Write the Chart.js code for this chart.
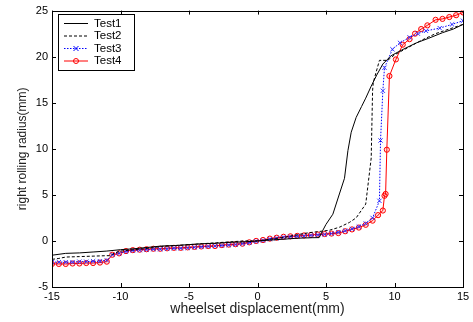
<!DOCTYPE html>
<html>
<head>
  <meta charset="UTF-8" />
  <title>Rolling radius</title>
  <script src="https://cdn.jsdelivr.net/npm/chart.js"></script>
  <style>
    html, body { margin: 0; padding: 0; background: #fff; overflow: hidden; }
    canvas { display: block; }
  </style>
</head>
<body>
  <canvas id="rr" width="473" height="322"></canvas>
  <script>
    // measured rolling radius curves (mm) vs wheelset lateral displacement (mm)
    const test1X = [-15, -14, -13, -12, -11, -10, -9, -8, -7, -6, -5, -4, -3, -2, -1, 0, 1, 2, 3, 4, 4.5, 4.75, 5, 5.5, 6, 6.35, 6.6, 6.84, 7.2, 7.6, 7.9, 8.3, 8.7, 9.15, 9.75, 10.5, 11.6, 12.5, 13.5, 14.3, 15];
    const test1Y = [-1.55, -1.35, -1.3, -1.2, -1.1, -0.95, -0.85, -0.7, -0.55, -0.5, -0.4, -0.3, -0.25, -0.15, -0.1, 0, 0.1, 0.2, 0.3, 0.35, 0.36, 1.1, 1.8, 2.9, 5.2, 6.8, 9.8, 11.8, 13.4, 14.6, 15.5, 16.8, 18.0, 19.2, 20.1, 20.7, 21.5, 22.0, 22.6, 23.0, 23.5];

    const test2X = [-15, -14.5, -14, -13, -12, -11, -10.8, -10.4, -10, -9, -8, -7, -6, -5, -4, -3, -2, -1, 0, 1, 2, 3, 3.8, 5.25, 6, 6.7, 7.2, 7.9, 8.1, 8.3, 8.4, 8.45, 8.9, 9.5, 10, 11, 12, 13, 14, 15];
    const test2Y = [-2.0, -1.9, -1.75, -1.7, -1.65, -1.6, -1.6, -1.3, -1.1, -0.95, -0.8, -0.6, -0.5, -0.4, -0.3, -0.2, -0.1, 0, 0, 0.2, 0.4, 0.7, 0.9, 1.16, 1.5, 2.0, 2.5, 4.0, 6.5, 9.0, 16.3, 17.2, 19.6, 19.6, 20.2, 21.0, 21.8, 22.5, 23.0, 23.5];

    const test3X = [-15, -14.5, -14, -13.5, -13, -12.5, -12, -11.5, -11, -10.6, -10.1, -9.6, -9.1, -8.6, -8.1, -7.6, -7.1, -6.6, -6.1, -5.6, -5.1, -4.6, -4.1, -3.6, -3.1, -2.6, -2.1, -1.6, -1.1, -0.6, -0.1, 0.4, 0.9, 1.4, 1.9, 2.4, 2.9, 3.4, 3.9, 4.4, 4.9, 5.4, 5.9, 6.4, 6.9, 7.4, 7.9, 8.4, 8.9, 8.98, 9.15, 9.27, 9.85, 10.4, 11.1, 11.7, 12.3, 13.3, 14.2, 15];
    const test3Y = [-2.3, -2.3, -2.3, -2.3, -2.25, -2.25, -2.2, -2.2, -2.1, -1.5, -1.35, -1.15, -1.05, -1.0, -0.95, -0.9, -0.9, -0.85, -0.8, -0.8, -0.75, -0.7, -0.65, -0.6, -0.55, -0.5, -0.45, -0.4, -0.3, -0.2, -0.05, 0.05, 0.2, 0.3, 0.4, 0.45, 0.5, 0.55, 0.6, 0.65, 0.7, 0.8, 0.95, 1.1, 1.3, 1.55, 1.9, 2.5, 4.35, 10.9, 16.3, 18.8, 20.8, 21.5, 22.1, 22.5, 22.8, 23.1, 23.5, 23.9];

    const test4X = [-15, -14.5, -14, -13.5, -13, -12.5, -12, -11.5, -11, -10.6, -10.1, -9.6, -9.1, -8.6, -8.1, -7.6, -7.1, -6.6, -6.1, -5.6, -5.1, -4.6, -4.1, -3.6, -3.1, -2.6, -2.1, -1.6, -1.1, -0.6, -0.1, 0.4, 0.9, 1.4, 1.9, 2.4, 2.9, 3.4, 3.9, 4.4, 4.9, 5.4, 5.9, 6.4, 6.9, 7.4, 7.9, 8.4, 8.8, 9.15, 9.27, 9.35, 9.44, 9.63, 10.1, 10.6, 11.1, 11.5, 11.95, 12.4, 13.0, 13.5, 14.0, 14.5, 15];
    const test4Y = [-2.5, -2.5, -2.5, -2.45, -2.45, -2.4, -2.4, -2.35, -2.25, -1.5, -1.35, -1.1, -1.0, -0.95, -0.9, -0.85, -0.85, -0.8, -0.75, -0.75, -0.7, -0.65, -0.6, -0.55, -0.55, -0.45, -0.4, -0.35, -0.3, -0.15, 0, 0.1, 0.25, 0.35, 0.45, 0.5, 0.55, 0.6, 0.65, 0.7, 0.75, 0.8, 0.85, 1.05, 1.25, 1.45, 1.75, 2.2, 2.8, 3.3, 4.9, 5.1, 9.9, 17.9, 19.7, 21.3, 21.9, 22.5, 23.0, 23.4, 24.0, 24.1, 24.3, 24.5, 24.8];

    const seriesNames = ['Test1', 'Test2', 'Test3', 'Test4'];
    const xTicks = [-15, -10, -5, 0, 5, 10, 15];
    const yTicks = [-5, 0, 5, 10, 15, 20, 25];

    const pts = (xs, ys) => xs.map((x, i) => ({ x: x, y: ys[i] }));
    const FONT = 'Liberation Sans, Arial, sans-serif';

    // MATLAB-style box, inward ticks and boxed legend
    const boxPlugin = {
      id: 'box',
      afterDraw(chart) {
        const ctx = chart.ctx;
        const a = chart.chartArea;
        const xs = chart.scales.x, ys = chart.scales.y;
        ctx.save();
        ctx.strokeStyle = '#000';
        ctx.lineWidth = 1;
        ctx.strokeRect(Math.round(a.left) + 0.5, Math.round(a.top) + 0.5,
                       Math.round(a.right - a.left), Math.round(a.bottom - a.top));
        ctx.beginPath();
        xTicks.forEach(v => {
          const px = Math.round(xs.getPixelForValue(v)) + 0.5;
          ctx.moveTo(px, a.bottom); ctx.lineTo(px, a.bottom - 4);
          ctx.moveTo(px, a.top); ctx.lineTo(px, a.top + 4);
        });
        yTicks.forEach(v => {
          const py = Math.round(ys.getPixelForValue(v)) + 0.5;
          ctx.moveTo(a.left, py); ctx.lineTo(a.left + 4, py);
          ctx.moveTo(a.right, py); ctx.lineTo(a.right - 4, py);
        });
        ctx.stroke();

        // legend
        const lx = 58, ly = 14, lw = 76, lh = 56;
        ctx.fillStyle = '#fff';
        ctx.fillRect(lx, ly, lw, lh);
        ctx.strokeStyle = '#000';
        ctx.strokeRect(lx + 0.5, ly + 0.5, lw, lh);
        ctx.font = '11.5px ' + FONT;
        ctx.textBaseline = 'middle';
        chart.data.datasets.forEach((ds, i) => {
          const y = ly + 9.5 + i * 12.5;
          ctx.strokeStyle = ds.borderColor;
          ctx.lineWidth = 1;
          ctx.setLineDash(ds.borderDash || []);
          ctx.beginPath();
          ctx.moveTo(64, y); ctx.lineTo(88, y);
          ctx.stroke();
          ctx.setLineDash([]);
          if (ds.pointRadius > 0) {
            ctx.beginPath();
            if (ds.pointStyle === 'circle') {
              ctx.arc(76, y, 2.5, 0, Math.PI * 2);
            } else {
              ctx.moveTo(73.5, y - 2.5); ctx.lineTo(78.5, y + 2.5);
              ctx.moveTo(78.5, y - 2.5); ctx.lineTo(73.5, y + 2.5);
            }
            ctx.stroke();
          }
          ctx.fillStyle = '#000';
          ctx.fillText(ds.label, 94, y);
        });
        ctx.restore();
      }
    };

    new Chart(document.getElementById('rr'), {
      type: 'scatter',
      data: {
        datasets: [
          { label: seriesNames[0], data: pts(test1X, test1Y), showLine: true, borderColor: '#000', borderWidth: 1, pointRadius: 0 },
          { label: seriesNames[1], data: pts(test2X, test2Y), showLine: true, borderColor: '#000', borderWidth: 1, borderDash: [3, 2], pointRadius: 0 },
          { label: seriesNames[2], data: pts(test3X, test3Y), showLine: true, borderColor: '#0000ff', borderWidth: 1, borderDash: [1.5, 1.5],
            pointStyle: 'crossRot', pointRadius: 3, pointBorderColor: '#3333ff', pointBorderWidth: 1 },
          { label: seriesNames[3], data: pts(test4X, test4Y), showLine: true, borderColor: '#ff0000', borderWidth: 1,
            pointStyle: 'circle', pointRadius: 2.6, pointBorderColor: '#ff0000', pointBackgroundColor: 'rgba(255,0,0,0.12)', pointBorderWidth: 1 }
        ]
      },
      options: {
        responsive: false,
        animation: false,
        layout: { padding: { top: 10, right: 10, left: 0, bottom: 0 } },
        plugins: { legend: { display: false }, tooltip: { enabled: false } },
        scales: {
          x: {
            type: 'linear', min: -15, max: 15,
            grid: { display: false, drawTicks: false },
            border: { display: false },
            afterBuildTicks: s => { s.ticks = xTicks.map(v => ({ value: v })); },
            afterFit: s => { s.height = 35; },
            ticks: { color: '#000', padding: 3, maxRotation: 0, font: { family: FONT, size: 11 } },
            title: { display: true, text: 'wheelset displacement(mm)', color: '#222',
                     font: { family: FONT, size: 14 }, padding: { top: 0, bottom: 4 } }
          },
          y: {
            type: 'linear', min: -5, max: 25,
            grid: { display: false, drawTicks: false },
            border: { display: false },
            afterBuildTicks: s => { s.ticks = yTicks.map(v => ({ value: v })); },
            afterFit: s => { s.width = 52; },
            ticks: { color: '#000', padding: 4, font: { family: FONT, size: 11 } },
            title: { display: true, text: 'right rolling radius(mm)', color: '#222',
                     font: { family: FONT, size: 12 }, padding: { top: 15, bottom: 0 } }
          }
        }
      },
      plugins: [boxPlugin]
    });
  </script>
</body>
</html>
